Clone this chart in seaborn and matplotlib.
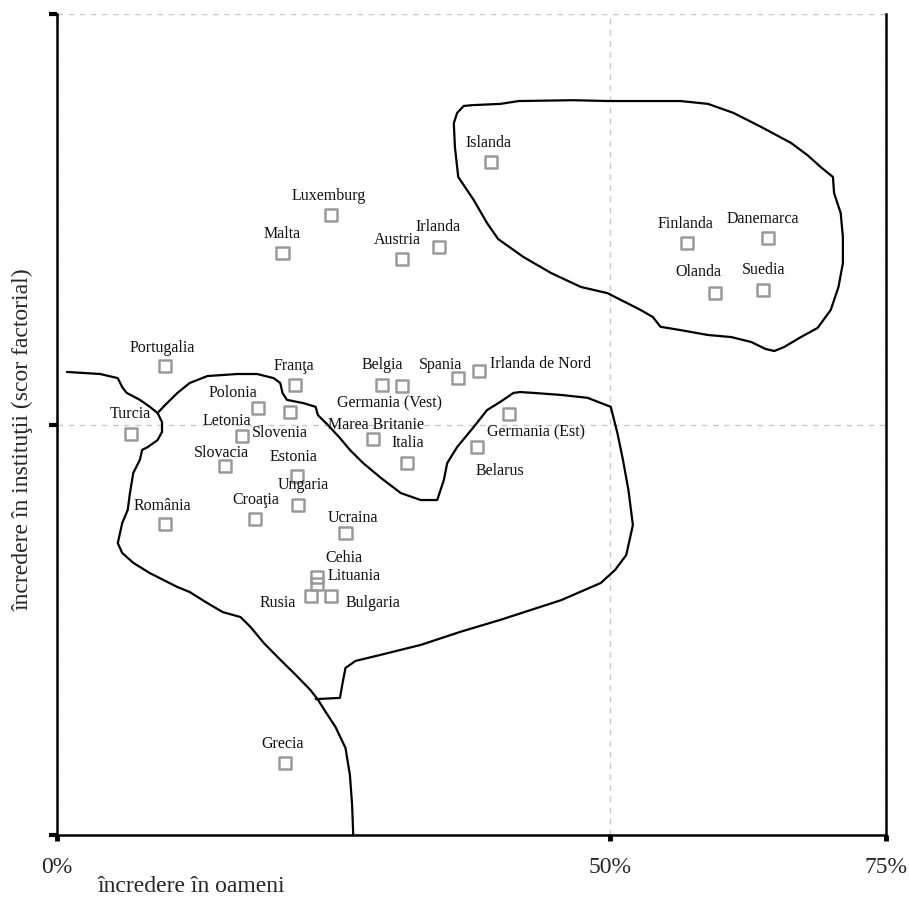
import matplotlib
matplotlib.use("Agg")
import matplotlib.pyplot as plt
import seaborn as sns
import pandas as pd

# countries: trust in people (%) vs trust in institutions (factor score)
countries = ["Islanda", "Luxemburg", "Malta", "Austria", "Irlanda", "Finlanda",
             "Danemarca", "Olanda", "Suedia", "Portugalia", "Franţa", "Belgia",
             "Germania (Vest)", "Spania", "Irlanda de Nord", "Polonia", "Slovenia",
             "Turcia", "Letonia", "Marea Britanie", "Italia", "Germania (Est)",
             "Belarus", "Slovacia", "Estonia", "Ungaria", "Croaţia", "România",
             "Ucraina", "Cehia", "Lituania", "Rusia", "Bulgaria", "Grecia"]
trust_people = [39.3, 24.8, 20.4, 31.25, 34.6, 57.0,
                64.3, 59.5, 63.9, 9.8, 21.5, 29.4,
                31.25, 36.3, 38.2, 18.2, 21.1,
                6.7, 16.7, 28.6, 31.7, 40.9,
                38.0, 15.2, 21.7, 21.8, 17.9, 9.8,
                26.1, 23.5, 23.5, 23.0, 24.8, 20.6]
trust_inst = [0.639, 0.510, 0.418, 0.403, 0.432, 0.442,
              0.454, 0.320, 0.328, 0.143, 0.096, 0.096,
              0.094, 0.113, 0.130, 0.040, 0.030,
              -0.023, -0.028, -0.035, -0.094, 0.026,
              -0.055, -0.101, -0.125, -0.196, -0.230, -0.242,
              -0.264, -0.371, -0.389, -0.418, -0.418, -0.825]

# hand-drawn boundaries (data units)
nordic_x = [36.8, 37.6, 40.1, 41.8, 46.7, 49.8, 56.4, 58.9, 61.2, 63.7, 66.4, 67.9,
            69.1, 70.2, 70.3, 70.9, 71.1, 71.1, 70.7, 70.0, 68.8, 67.3, 65.8, 64.9,
            64.1, 62.8, 61.0, 58.9, 56.4, 54.6, 53.9, 52.8, 49.8, 47.4, 44.7, 42.2,
            39.9, 38.9, 37.7, 36.3, 36.0, 35.9, 36.2, 36.8]
nordic_y = [0.776, 0.778, 0.781, 0.788, 0.790, 0.788, 0.788, 0.781, 0.759, 0.725, 0.686, 0.656,
            0.627, 0.603, 0.564, 0.515, 0.457, 0.393, 0.335, 0.279, 0.235, 0.213, 0.189, 0.179,
            0.184, 0.201, 0.213, 0.218, 0.230, 0.238, 0.262, 0.279, 0.320, 0.335, 0.369, 0.408,
            0.452, 0.491, 0.547, 0.603, 0.676, 0.734, 0.759, 0.776]

turkey_x = [0.9, 3.9, 5.5, 5.9, 6.3, 7.5, 8.4, 9.1]
turkey_y = [0.128, 0.123, 0.113, 0.091, 0.077, 0.060, 0.043, 0.028]

east_x = [9.1, 9.8, 10.9, 12.0, 13.6, 16.3, 18.1, 19.6, 20.2, 20.4, 20.8, 22.3,
          23.4, 23.6, 24.5, 25.6, 26.5, 27.7, 29.3, 31.1, 32.9, 34.4, 35.0, 35.3,
          36.2, 37.7, 38.9, 40.1, 41.3, 41.9, 43.1, 45.6, 48.0, 50.1, 50.7, 51.2,
          51.7, 52.1, 51.5, 50.5, 49.2, 45.6, 40.1, 36.5, 32.9, 29.3, 27.0, 26.1,
          25.8, 25.6, 23.4]
east_y = [0.028, 0.048, 0.077, 0.101, 0.118, 0.123, 0.123, 0.113, 0.101, 0.077, 0.060, 0.052,
          0.043, 0.023, -0.001, -0.033, -0.062, -0.094, -0.130, -0.167, -0.184, -0.184, -0.135, -0.094,
          -0.055, -0.006, 0.035, 0.055, 0.077, 0.079, 0.077, 0.072, 0.065, 0.043, -0.021, -0.086,
          -0.160, -0.245, -0.318, -0.354, -0.386, -0.428, -0.476, -0.505, -0.537, -0.561, -0.576, -0.593,
          -0.635, -0.666, -0.669]

west_x = [9.1, 9.5, 9.5, 9.1, 8.2, 7.7, 7.5, 6.9, 6.6, 6.4, 5.9, 5.5, 5.9, 6.9, 8.4,
          10.9, 12.0, 13.6, 15.0, 16.6, 17.5, 18.7, 20.2, 21.6, 22.9, 23.6, 24.3,
          25.2, 26.1, 26.5, 26.7, 26.8]
west_y = [0.028, 0.006, -0.018, -0.038, -0.055, -0.062, -0.086, -0.118, -0.167, -0.208,
          -0.240, -0.289, -0.313, -0.337, -0.362, -0.396, -0.408, -0.435, -0.457, -0.469,
          -0.493, -0.532, -0.573, -0.610, -0.646, -0.670, -0.700, -0.737, -0.788, -0.854,
          -0.927, -1.0]

x_ticks = [0, 50, 75]
x_ticklabels = ["0%", "50%", "75%"]

# label offsets in pixels (dx, dy) relative to the marker
label_offsets = {
    "Islanda": (-3, 19), "Luxemburg": (-2, 19), "Malta": (0, 19), "Austria": (-5, 19),
    "Irlanda": (-1, 20), "Finlanda": (-2, 19), "Danemarca": (-5, 19), "Olanda": (-16, 21),
    "Suedia": (0, 20), "Portugalia": (-3, 18), "Franţa": (-1, 19), "Belgia": (0, 20),
    "Germania (Vest)": (-13, -17), "Spania": (-18, 13), "Irlanda de Nord": (61, 7),
    "Polonia": (-25, 15), "Slovenia": (-10, -21), "Turcia": (-1, 20), "Letonia": (-15, 15),
    "Marea Britanie": (3, 14), "Italia": (0, 20), "Germania (Est)": (27, -19),
    "Belarus": (23, -24), "Slovacia": (-4, 13), "Estonia": (-3, 19), "Ungaria": (5, 20),
    "Croaţia": (1, 19), "România": (-3, 18), "Ucraina": (7, 15), "Cehia": (27, 19),
    "Lituania": (37, 8), "Rusia": (-33, -7), "Bulgaria": (42, -7), "Grecia": (-2, 19),
}

sns.set_style("white")
plt.rcParams["font.family"] = ["Liberation Serif", "DejaVu Serif"]

df = pd.DataFrame({"tara": countries, "oameni": trust_people, "institutii": trust_inst})

fig = plt.figure(figsize=(9.09, 8.99), dpi=100)
ax = fig.add_axes([57 / 909, 64 / 899, 829 / 909, 821 / 899])

for bx, by in [(nordic_x, nordic_y), (turkey_x, turkey_y), (east_x, east_y), (west_x, west_y)]:
    sns.lineplot(x=bx, y=by, sort=False, estimator=None, color="black", lw=1.6, ax=ax, zorder=2)

sns.scatterplot(data=df, x="oameni", y="institutii", marker="s", s=75,
                facecolor="none", edgecolor="#9a9a9a", linewidth=1.8, ax=ax, zorder=3)

for name, xv, yv in zip(countries, trust_people, trust_inst):
    dx, dy = label_offsets[name]
    ax.annotate(name, (xv, yv), xytext=(dx, dy), textcoords="offset pixels",
                ha="center", va="center", fontsize=11.5, color="#111111")

ax.set_xlim(0, 75)
ax.set_ylim(-1, 1)
ax.set_xticks(x_ticks)
ax.set_xticklabels(x_ticklabels, fontsize=17)
ax.set_yticks([-1, 0, 1])
ax.set_yticklabels([])
ax.tick_params(axis="x", bottom=True, direction="out", length=4, width=3.5, color="black", pad=12)
ax.tick_params(axis="y", left=True, direction="out", length=6, width=3, color="black")
ax.grid(True, color="#c8c8c8", linestyle=(0, (4, 4)), lw=1)
ax.set_axisbelow(True)

ax.spines["top"].set_visible(False)
for side in ["left", "bottom", "right"]:
    ax.spines[side].set_color("black")
    ax.spines[side].set_linewidth(1.8)

ax.set_xlabel("încredere în oameni", fontsize=17)
ax.xaxis.set_label_coords(0.162, -0.050)
ax.set_ylabel("încredere în instituţii (scor factorial)", fontsize=17)
ax.yaxis.set_label_coords(-0.028, 0.481)

fig.savefig("out.png", dpi=100)
